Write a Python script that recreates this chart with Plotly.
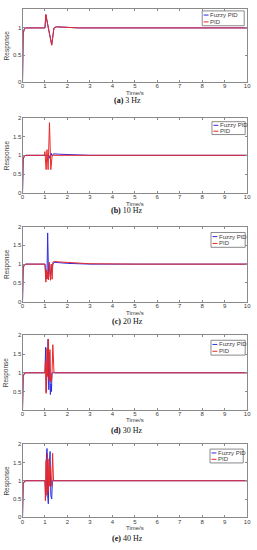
import plotly.graph_objects as go

W, H = 257, 550

# ---------------- data ----------------
captions = ["(a)", "(b)", "(c)", "(d)", "(e)"]
freqs = ["3 Hz", "10 Hz", "20 Hz", "30 Hz", "40 Hz"]
series_names = ["Fuzzy PID", "PID"]

# (a) 3 Hz
t_a_fuzzy = [0, 0.03, 0.08, 0.15, 1.0, 1.04, 1.15, 1.3, 1.4, 1.5, 2.0, 2.5, 10]
y_a_fuzzy = [0, 0.9, 0.98, 1.0, 1.0, 1.24, 1.0, 0.69, 1.0, 1.02, 1.01, 1.0, 1.0]
t_a_pid = [0, 0.03, 0.08, 0.15, 1.0, 1.04, 1.15, 1.3, 1.4, 1.5, 2.0, 2.5, 10]
y_a_pid = [0, 0.9, 0.98, 1.0, 1.0, 1.25, 1.0, 0.68, 1.0, 1.02, 1.01, 1.0, 1.0]

# (b) 10 Hz
t_b_fuzzy = [0, 0.03, 0.08, 0.15, 1.0, 1.18, 1.22, 1.27, 1.32, 1.38, 1.6, 2.0, 3.0, 10]
y_b_fuzzy = [0, 0.9, 0.98, 1.0, 1.0, 1.0, 0.92, 1.06, 0.98, 1.04, 1.03, 1.02, 1.0, 1.0]
t_b_pid = [0, 0.03, 0.08, 0.15, 0.97, 1.0, 1.05, 1.09, 1.14, 1.2, 1.26, 1.32, 10]
y_b_pid = [0, 0.9, 0.98, 1.0, 1.0, 1.1, 0.62, 1.15, 0.62, 1.87, 0.62, 1.0, 1.0]

# (c) 20 Hz
t_c_fuzzy = [0, 0.03, 0.08, 0.15, 1.0, 1.05, 1.09, 1.12, 1.16, 1.2, 1.24, 1.28, 1.32, 1.4, 1.6, 2.0, 3.0, 10]
y_c_fuzzy = [0, 0.9, 0.98, 1.0, 1.0, 0.6, 0.75, 1.83, 0.65, 1.03, 0.7, 0.82, 0.95, 1.05, 1.04, 1.02, 1.0, 1.0]
t_c_pid = [0, 0.03, 0.08, 0.15, 1.0, 1.04, 1.08, 1.1, 1.13, 1.16, 1.2, 1.25, 1.28, 1.32, 1.35, 1.42, 1.6, 2.0, 3.0, 5.0, 10]
y_c_pid = [0, 0.9, 0.98, 1.0, 1.0, 0.52, 0.85, 0.6, 0.8, 0.58, 1.05, 0.57, 1.0, 0.6, 1.05, 1.07, 1.06, 1.04, 1.01, 1.0, 1.0]

# (d) 30 Hz
t_d_fuzzy = [0, 0.03, 0.08, 0.15, 1.0, 1.03, 1.06, 1.1, 1.14, 1.17, 1.2, 1.24, 1.27, 1.29, 1.31, 1.35, 10]
y_d_fuzzy = [0, 0.9, 0.98, 1.0, 1.0, 1.68, 0.5, 1.2, 1.9, 0.55, 1.55, 0.42, 0.7, 0.5, 1.0, 1.0, 1.0]
t_d_pid = [0, 0.03, 0.08, 0.15, 1.0, 1.02, 1.05, 1.09, 1.12, 1.15, 1.19, 1.22, 1.25, 1.27, 1.29, 1.31, 1.35, 1.4, 1.45, 10]
y_d_pid = [0, 0.9, 0.98, 1.0, 1.0, 1.3, 0.45, 1.65, 0.9, 1.9, 0.8, 1.62, 0.75, 0.95, 0.8, 0.92, 1.75, 1.02, 1.0, 1.0]

# (e) 40 Hz
t_e_fuzzy = [0, 0.03, 0.08, 0.15, 1.0, 1.03, 1.06, 1.09, 1.12, 1.15, 1.18, 1.23, 1.26, 1.3, 1.33, 1.4, 10]
y_e_fuzzy = [0, 0.9, 0.98, 1.0, 1.0, 0.55, 1.6, 1.88, 0.6, 0.37, 1.4, 1.8, 0.6, 0.5, 1.0, 1.0, 1.0]
t_e_pid = [0, 0.03, 0.08, 0.15, 1.0, 1.02, 1.05, 1.08, 1.11, 1.14, 1.18, 1.21, 1.24, 1.27, 1.3, 1.34, 1.38, 1.45, 10]
y_e_pid = [0, 0.9, 0.98, 1.0, 1.0, 0.45, 1.55, 0.6, 1.75, 0.7, 1.6, 0.85, 1.4, 0.9, 0.85, 1.75, 1.0, 1.0, 1.0]

x_ticks = list(range(0, 11))
y_ticks_a = [0, 0.5, 1]
y_ticks = [0, 0.5, 1, 1.5, 2]

panels = [
    (t_a_fuzzy, y_a_fuzzy, t_a_pid, y_a_pid, [0, 1.35], y_ticks_a),
    (t_b_fuzzy, y_b_fuzzy, t_b_pid, y_b_pid, [0, 2], y_ticks),
    (t_c_fuzzy, y_c_fuzzy, t_c_pid, y_c_pid, [0, 2], y_ticks),
    (t_d_fuzzy, y_d_fuzzy, t_d_pid, y_d_pid, [0.02, 2], y_ticks),
    (t_e_fuzzy, y_e_fuzzy, t_e_pid, y_e_pid, [0, 2], y_ticks),
]

# ---------------- layout geometry (pixels) ----------------
plot_left, plot_right = 21, 251
tops = [6, 116, 226, 336, 446]
bottoms = [80, 192, 302, 411, 520]
caption_y = [99, 210, 322, 432, 541]
legend_boxes = [(205, 8, 248, 23), (215, 120, 249, 133), (214, 232, 249, 247),
                (214, 341, 249, 356), (213, 451, 247, 465)]

BLUE = "rgb(45,45,225)"
RED = "rgb(232,40,40)"
AX = "#8a8a8a"
TXT = "#3c3c3c"


def X(px):
    return px / W


def Y(py):
    return 1 - py / H


fig = go.Figure()
annotations = []
shapes = []

for i, (tf, yf, tp, yp, yr, yt) in enumerate(panels):
    n = "" if i == 0 else str(i + 1)
    xa, ya = "x" + n, "y" + n
    fig.add_trace(go.Scatter(x=tf, y=yf, mode="lines", name=series_names[0],
                             line=dict(color=BLUE, width=1), xaxis=xa, yaxis=ya,
                             showlegend=False))
    fig.add_trace(go.Scatter(x=tp, y=yp, mode="lines", name=series_names[1],
                             line=dict(color=RED, width=1), xaxis=xa, yaxis=ya,
                             showlegend=False))
    axis_common = dict(showline=True, linecolor=AX, linewidth=1, mirror="allticks",
                       ticks="inside", ticklen=2, tickcolor=AX, showgrid=False,
                       zeroline=False, tickfont=dict(family="Liberation Sans", size=6, color=TXT))
    fig.layout["xaxis" + n] = dict(domain=[X(plot_left), X(plot_right)], range=[0, 10],
                                   tickvals=x_ticks, anchor=ya, ticklabelstandoff=-2,
                                   **axis_common)
    fig.layout["yaxis" + n] = dict(domain=[Y(bottoms[i]), Y(tops[i])], range=yr,
                                   tickvals=yt, anchor=xa, ticklabelstandoff=-1,
                                   **axis_common)

    # axis titles
    annotations.append(dict(x=X((plot_left + plot_right) / 2), y=Y(bottoms[i] + 11),
                            xref="paper", yref="paper", text="Time/s", showarrow=False,
                            xanchor="center", yanchor="middle", borderpad=0,
                            font=dict(family="Liberation Sans", size=6, color=TXT)))
    annotations.append(dict(x=X(5), y=Y((tops[i] + bottoms[i]) / 2), xref="paper",
                            yref="paper", text="Response", textangle=-90, showarrow=False,
                            xanchor="center", yanchor="middle", borderpad=0,
                            font=dict(family="Liberation Sans", size=6.5, color=TXT)))
    # caption
    annotations.append(dict(x=X(128), y=Y(caption_y[i]), xref="paper", yref="paper",
                            text="<b>" + captions[i] + "</b> " + freqs[i], showarrow=False,
                            xanchor="center", yanchor="middle", borderpad=0,
                            font=dict(family="Liberation Serif", size=8, color="#111")))

    # legend box
    x0, y0, x1, y1 = legend_boxes[i]
    shapes.append(dict(type="rect", xref="paper", yref="paper", x0=X(x0), x1=X(x1),
                       y0=Y(y1), y1=Y(y0), line=dict(color=AX, width=1), fillcolor="white",
                       layer="above"))
    rows = [y0 + (y1 - y0) * 0.28, y0 + (y1 - y0) * 0.74]
    for name, col, ry in zip(series_names, [BLUE, RED], rows):
        shapes.append(dict(type="line", xref="paper", yref="paper", x0=X(x0 + 1.5),
                           x1=X(x0 + 6.5), y0=Y(ry), y1=Y(ry), line=dict(color=col, width=1),
                           layer="above"))
        annotations.append(dict(x=X(x0 + 7), y=Y(ry), xref="paper", yref="paper",
                                xanchor="left", yanchor="middle", borderpad=0,
                                text=name, showarrow=False,
                                font=dict(family="Liberation Sans", size=6, color=TXT)))

fig.update_layout(width=W, height=H, margin=dict(l=0, r=0, t=0, b=0),
                  paper_bgcolor="white", plot_bgcolor="white",
                  annotations=annotations, shapes=shapes, showlegend=False)

fig.write_html("out.html", config={"displayModeBar": False},
               post_script="document.body.style.margin='0';document.body.style.overflow='hidden';")
